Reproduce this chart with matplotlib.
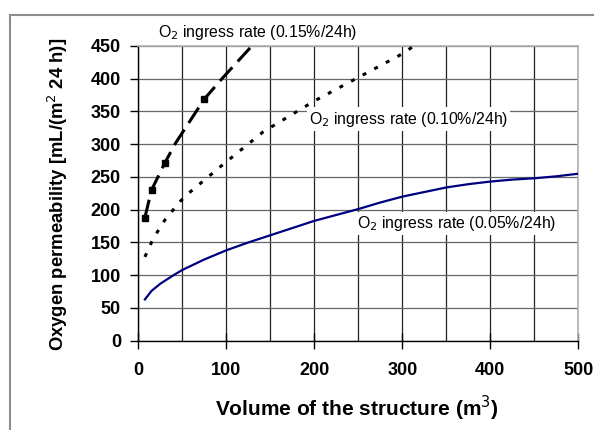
import matplotlib
matplotlib.use("Agg")
import matplotlib.pyplot as plt
from matplotlib.ticker import MultipleLocator
from matplotlib.lines import Line2D

plt.rcParams["font.family"] = ["Liberation Sans", "DejaVu Sans"]

# Data
vol_005 = [7.5, 15, 25, 40, 50, 75, 100, 125, 150, 175, 200, 225, 250, 275,
           300, 325, 350, 375, 400, 425, 450, 475, 500]
perm_005 = [63, 76, 87, 100, 108, 124, 138, 150, 161, 172, 183, 192, 201, 211,
            220, 227, 234, 239, 243, 246, 248, 251, 255]

vol_010 = [7.5, 17, 30, 47, 57, 98, 142, 200, 250, 300, 312, 325]
perm_010 = [128, 156, 184, 212, 225, 271, 319, 366, 402, 438, 449, 456]

vol_015 = [7.5, 15, 30, 42, 75, 95, 129, 135]
perm_015 = [188, 230, 271, 301, 369, 400, 450, 458]
marked_015 = [0, 1, 2, 4]

labels = ["O$_2$ ingress rate (0.15%/24h)",
          "O$_2$ ingress rate (0.10%/24h)",
          "O$_2$ ingress rate (0.05%/24h)"]

W, H = 594, 430
fig = plt.figure(figsize=(W / 100, H / 100), dpi=100)
ax = fig.add_axes([138.3 / W, 1 - 340.7 / H, 440 / W, 294.7 / H])

# outer frame of the original figure
fig.add_artist(Line2D([10 / W, 1], [1 - 15 / H, 1 - 15 / H], color="#8c8c8c", lw=1.5))
fig.add_artist(Line2D([10 / W, 10 / W], [0, 1 - 15 / H], color="#8c8c8c", lw=1.5))

ax.plot(vol_005, perm_005, color="#000080", lw=1.6, zorder=3)
ax.plot(vol_010, perm_010, color="black", lw=2.2, linestyle=(0, (1.3, 3)), zorder=3)
ax.plot(vol_015, perm_015, color="black", lw=2.2, linestyle=(0, (6, 2.6)),
        marker="s", markersize=5, markevery=marked_015, zorder=3)

ax.set_xlim(0, 500)
ax.set_ylim(0, 450)
ax.xaxis.set_major_locator(MultipleLocator(100))
ax.xaxis.set_minor_locator(MultipleLocator(50))
ax.yaxis.set_major_locator(MultipleLocator(50))

ax.grid(True, which="both", axis="x", color="#222222", lw=0.9)
ax.grid(True, which="major", axis="y", color="#666666", lw=0.9)
ax.set_axisbelow(True)

for side in ("top", "right"):
    ax.spines[side].set_color("#b0b0b0")
    ax.spines[side].set_linewidth(1.2)
for side in ("left", "bottom"):
    ax.spines[side].set_color("black")
    ax.spines[side].set_linewidth(1.0)

ax.tick_params(axis="y", direction="out", length=6, width=1, pad=6.5,
               labelsize=13)
ax.tick_params(axis="x", which="major", direction="inout", length=12, width=1,
               pad=9, labelsize=13)
ax.tick_params(axis="x", which="minor", length=0)
for lab in ax.get_xticklabels() + ax.get_yticklabels():
    lab.set_fontweight("bold")

ax.text(22.4, 471, labels[0], fontsize=11.4, va="center", ha="left", clip_on=False)
ax.text(194, 338.5, labels[1], fontsize=11.4, va="center", ha="left",
        bbox=dict(facecolor="white", edgecolor="none", pad=1.5), zorder=4)
ax.text(248, 179.3, labels[2], fontsize=11.4, va="center", ha="left",
        bbox=dict(facecolor="white", edgecolor="none", pad=1.5), zorder=4)

fig.text(357 / W, 1 - 408 / H, "Volume of the structure (m$^3$)",
         fontsize=15, fontweight="bold", ha="center", va="center")
fig.text(57.5 / W, 1 - 194 / H, "Oxygen permeability [mL/(m$^2$ 24 h)]",
         fontsize=13.3, fontweight="bold", ha="center", va="center", rotation=90)

fig.savefig("out.png", dpi=100, facecolor="white")
